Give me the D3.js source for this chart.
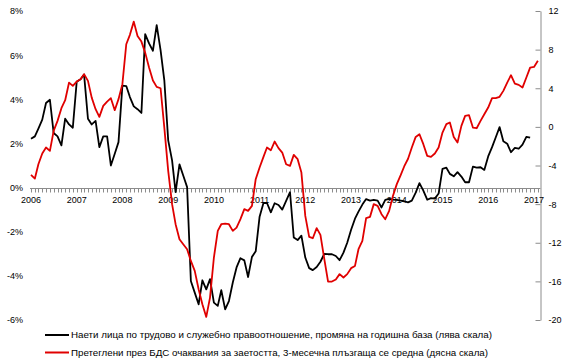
<!DOCTYPE html>
<html><head><meta charset="utf-8">
<script src="https://cdn.jsdelivr.net/npm/d3@7"></script>
<style>
html,body{margin:0;padding:0;background:#fff;}
svg{display:block;font-family:"Liberation Sans",Arial,sans-serif;}
</style></head>
<body>
<svg id="chart" width="568" height="359"></svg>
<script>
// ---- data ----
const startYear = 2006, startMonth = 0; // Jan 2006, monthly
const employed = [2.21,2.32,2.67,3.08,3.83,3.98,2.47,2.32,1.91,3.12,2.86,2.71,
 4.79,4.91,5.12,3.12,2.86,3.02,1.83,2.32,2.32,1.0,1.53,2.06,
 4.62,4.6,4.1,3.68,3.55,3.38,6.95,6.53,6.2,7.36,6.23,4.86,
 2.14,1.23,-0.21,1.05,0.55,0.02,-4.23,-4.76,-5.29,-4.2,-4.61,-4.15,
 -5.21,-5.36,-4.65,-5.52,-5.14,-4.3,-3.62,-3.2,-3.3,-4.05,-3.14,-2.89,
 -1.32,-0.7,-0.7,-1.12,-0.71,-0.79,-1.0,-0.6,-0.21,-2.26,-2.38,-2.18,
 -3.17,-3.65,-3.74,-3.6,-3.36,-3.0,-3.02,-3.02,-3.1,-3.29,-2.95,-2.5,
 -1.91,-1.41,-1.09,-0.77,-0.52,-0.59,-0.56,-0.59,-0.9,-0.56,-0.51,-0.55,
 -0.56,-0.59,-0.62,-0.67,-0.59,-0.23,0.2,-0.14,-0.55,-0.48,-0.5,-0.27,
 0.85,0.9,0.62,0.51,0.7,0.5,0.24,0.24,0.95,0.9,0.92,0.8,
 1.41,1.83,2.27,2.74,2.1,1.99,1.6,1.8,1.76,1.95,2.3,2.26];
const expectations = [-4.97,-5.35,-3.87,-2.76,-2.14,-2.49,-0.41,0.62,1.93,2.76,4.59,4.25,
 4.69,4.94,5.46,4.76,3.03,1.83,1.04,2.17,2.62,2.97,1.73,2.87,
 4.42,8.56,9.53,10.9,9.42,8.83,7.69,6.14,4.8,4.14,4.0,-0.07,
 -4.56,-8.0,-10.08,-11.63,-12.15,-12.67,-13.88,-14.91,-16.81,-18.36,-19.68,-17.68,
 -13.53,-10.77,-10.08,-10.01,-10.08,-10.77,-10.43,-9.56,-8.52,-8.7,-8.18,-5.42,
 -4.21,-3.11,-2.14,-2.42,-1.52,-2.2,-2.66,-3.87,-4.04,-2.9,-3.35,-4.73,
 -9.22,-11.39,-11.53,-10.49,-11.18,-13.7,-16.02,-16.02,-15.81,-15.25,-15.6,-15.25,
 -14.63,-14.4,-12.67,-11.81,-9.46,-9.32,-8.0,-8.18,-9.04,-9.56,-8.7,-7.15,
 -5.93,-5.0,-4.1,-3.3,-2.14,-1.04,-0.76,-1.79,-3.0,-3.11,-2.76,-2.14,
 -0.59,0.28,0.45,-1.04,-1.63,0.1,1.14,1.21,-0.07,-0.14,0.62,1.31,
 2.0,2.97,2.97,3.11,3.73,4.59,5.35,4.48,4.35,4.07,5.11,6.14,
 6.21,6.84];
const leftTicks = [-6,-4,-2,0,2,4,6,8];
const rightTicks = [-20,-16,-12,-8,-4,0,4,8,12];
const yearLabels = ["2006","2007","2008","2009","2010","2011","2012","2013","2014","2015","2016","2017"];
const legendLabels = [
 "Наети лица по трудово  и  служебно правоотношение, промяна на годишна база (лява скала)",
 "Претеглени през БДС очаквания за заетостта, 3-месечна плъзгаща се средна (дясна скала)"
];
const colors = ["#000000", "#e00000"];

// ---- scales ----
const svg = d3.select("#chart");
const monthDate = i => new Date(startYear, startMonth + i, 1);
const x = d3.scaleTime().domain([new Date(2006,0,1), new Date(2017,0,1)]).range([31, 534]);
const yL = d3.scaleLinear().domain([-6, 8]).range([320, 11]);
const yR = d3.scaleLinear().domain([-20, 12]).range([320, 11]);
const axisColor = "#8c8c8c";

// left axis labels (no line)
const gL = svg.append("g").attr("transform","translate(23,0)")
  .call(d3.axisLeft(yL).tickValues(leftTicks).tickSize(0).tickPadding(0).tickFormat(d => d + "%"));
gL.select(".domain").remove();
gL.selectAll("text").attr("font-size", 9).attr("fill","#000").attr("font-family","Liberation Sans, Arial, sans-serif");

// right axis
const gR = svg.append("g").attr("transform","translate(540.5,0)")
  .call(d3.axisRight(yR).tickValues(rightTicks).tickSize(0).tickPadding(8).tickFormat(d => d));
gR.select(".domain").attr("stroke", axisColor).attr("stroke-width",1);
gR.selectAll(".tick line").attr("x1",-5).attr("x2",0).attr("stroke",axisColor);
gR.selectAll("text").attr("font-size", 9).attr("fill","#000").attr("font-family","Liberation Sans, Arial, sans-serif");

// x axis at 0%
const y0 = Math.round(yL(0)) + 0.5;
const monthTicks = d3.range(0, 135).map(monthDate).filter(d => x(d) <= 541);
const gX = svg.append("g").attr("transform", `translate(0,${y0})`);
gX.append("line").attr("x1", 30).attr("x2", 540.5).attr("stroke", axisColor);
gX.selectAll("line.mt").data(monthTicks).join("line").attr("class","mt")
  .attr("x1", d => Math.round(x(d)) + 0.5).attr("x2", d => Math.round(x(d)) + 0.5)
  .attr("y1", 0).attr("y2", 4).attr("stroke", axisColor);
const yearDates = yearLabels.map(s => new Date(+s, 0, 1));
gX.selectAll("text.yl").data(yearDates).join("text").attr("class","yl")
  .attr("x", d => x(d)).attr("y", 14).attr("text-anchor","middle")
  .attr("font-size", 9).attr("fill","#000").text((d,i) => yearLabels[i]);

// lines
const lineL = d3.line().x((d,i) => x(monthDate(i))).y(d => yL(d));
const lineR = d3.line().x((d,i) => x(monthDate(i))).y(d => yR(d));
svg.append("path").datum(employed).attr("d", lineL)
  .attr("fill","none").attr("stroke", colors[0]).attr("stroke-width", 1.8).attr("stroke-linejoin","round");
svg.append("path").datum(expectations).attr("d", lineR)
  .attr("fill","none").attr("stroke", colors[1]).attr("stroke-width", 1.8).attr("stroke-linejoin","round");

// legend
const leg = svg.append("g");
const legendWidths = [421, 417];
legendLabels.forEach((t, i) => {
  const yy = 335 + i * 17.5;
  leg.append("line").attr("x1", 45).attr("x2", 69).attr("y1", yy).attr("y2", yy)
    .attr("stroke", colors[i]).attr("stroke-width", 2);
  leg.append("text").attr("x", 71).attr("y", yy + 3.3).attr("font-size", 9.5)
    .attr("textLength", legendWidths[i]).attr("lengthAdjust", "spacingAndGlyphs")
    .attr("fill","#000").text(t);
});
</script>
</body></html>
